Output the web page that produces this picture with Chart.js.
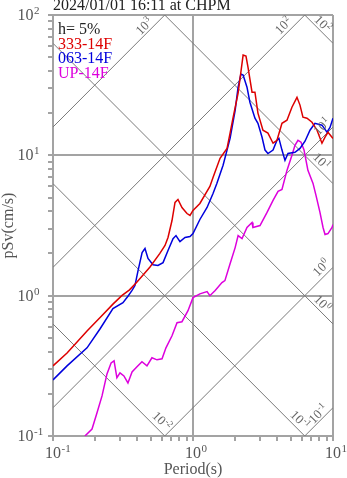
<!DOCTYPE html>
<html><head><meta charset="utf-8">
<script src="https://cdn.jsdelivr.net/npm/chart.js@4.4.0/dist/chart.umd.min.js"></script>
<style>html,body{margin:0;padding:0;background:#fff;}#wrap{width:347px;height:478px;position:relative;}</style>
</head><body><div id="wrap"><canvas id="c"></canvas></div>
<script>
// ---- text ----
const titleText = '2024/01/01 16:11 at CHPM';
const dampingText = 'h= 5%';
const seriesNames = ['333-14F', '063-14F', 'UP-14F'];
const seriesColors = ['#dd0000', '#0000dd', '#dd00dd'];
const xAxisTitle = 'Period(s)';
const yAxisTitle = 'pSv(cm/s)';
// tick labels (powers of ten)
const xTickExponents = [-1, 0, 1];
const yTickExponents = [-1, 0, 1, 2];
const minorSteps = [2, 3, 4, 5, 6, 7, 8, 9];

// ---- series: period (s) and pSv (cm/s) ----
const redT = [0.1,0.126,0.148,0.175,0.217,0.268,0.31,0.352,0.398,0.493,0.58,0.631,0.663,0.708,0.744,0.781,0.834,0.906,0.952,1.0,1.12,1.32,1.39,1.56,1.75,1.84,1.93,2.1,2.28,2.39,2.47,2.64,2.77,2.91,3.16,3.43,3.73,3.98,4.32,4.69,5.09,5.53,5.81,6.1,6.52,7.08,7.69,8.34,8.77,9.21,10];
const redSv = [0.316,0.39,0.465,0.56,0.70,0.87,1.0,1.1,1.25,1.6,2.0,2.28,2.6,3.43,4.62,4.85,4.25,3.85,3.73,4.05,4.54,6.0,6.96,9.52,11.2,14.4,18.4,27.7,51.8,50.9,42.5,28.2,28.2,20,15.1,14.4,12.2,12.8,16.9,17.8,22,25.9,22.8,18.7,18.4,17.2,15.1,12.2,13.5,14.6,13.2];

const blueT = [0.1,0.126,0.175,0.217,0.268,0.316,0.343,0.367,0.385,0.405,0.433,0.454,0.477,0.518,0.562,0.611,0.663,0.72,0.756,0.807,0.877,0.952,1.0,1.12,1.26,1.39,1.48,1.64,1.84,2.0,2.1,2.2,2.28,2.43,2.55,2.77,2.91,3.11,3.27,3.43,3.73,3.98,4.11,4.32,4.54,4.77,5.35,5.81,6.31,6.85,7.43,8.34,9.06,9.52,10];
const blueSv = [0.251,0.316,0.425,0.581,0.81,0.891,0.99,1.09,1.18,1.51,2.03,2.17,1.84,1.66,1.64,1.72,2.1,2.55,2.68,2.43,2.6,2.64,2.77,3.49,4.25,5.35,6.31,8.49,13.2,20.9,30.6,37.9,37.3,30.6,23.9,18.4,16.9,13.5,10.9,10.3,10.9,12.8,13.2,10.9,9.21,10.3,10.5,11.2,12.6,15.1,16.9,16.4,14.6,15.8,18.4];

const magT = [0.169,0.19,0.206,0.224,0.243,0.26,0.273,0.286,0.301,0.321,0.343,0.367,0.398,0.432,0.469,0.509,0.553,0.601,0.641,0.708,0.769,0.834,0.921,1.0,1.12,1.26,1.32,1.44,1.61,1.69,1.84,2.0,2.1,2.24,2.43,2.64,2.68,3.01,3.38,3.73,4.05,4.32,4.69,5.09,5.35,5.62,5.91,6.21,6.62,7.2,7.56,8.07,8.49,8.77,9.21,9.84,10];
const magSv = [0.1,0.112,0.146,0.193,0.277,0.332,0.343,0.26,0.282,0.268,0.239,0.286,0.311,0.338,0.316,0.361,0.349,0.355,0.425,0.518,0.641,0.652,0.781,0.968,1.03,1.07,1.0,1.09,1.24,1.28,1.69,2.2,2.68,2.55,3.06,3.32,3.06,3.16,3.92,4.77,5.53,5.71,7.81,10,11.8,12.8,12.4,10.9,7.81,6.31,5.18,3.92,3.06,2.73,2.77,3.06,3.21];

// ---- tripartite reference lines ----
const sdLines = [0.01, 0.1, 1, 10, 100];      // displacement, cm
const saLines = [0.1, 1, 10, 100, 1000];      // acceleration, cm/s^2
// label placement along / off each line (px): [back from exit, offset to side]
const sdLabelPlace = [[12.7, 8.5], [14.8, 7.8], [22, 7], [24, 7.5], [21, 6.5]];
const saLabelPlace = [[14.8, 6], [8.5, 8], [7.5, 8], [22.6, 7.5], [22.6, 6.5]];

const X_MIN = 0.1, X_MAX = 10, Y_MIN = 0.1, Y_MAX = 100;
const TWO_PI = 2 * Math.PI;
const gridColor = '#a3a3a3';
const diagColor = '#7a7a7a';
const SERIF = '"Liberation Serif", "DejaVu Serif", serif';

function pts(T, S) { return T.map((t, i) => ({ x: t, y: S[i] })); }
function isDecade(v) { const l = Math.log10(v); return Math.abs(l - Math.round(l)) < 1e-6; }
function buildTicks(min, max) {
  const out = [];
  for (let e = Math.round(Math.log10(min)); e <= Math.round(Math.log10(max)); e++) {
    const base = Math.pow(10, e);
    out.push(parseFloat(base.toPrecision(6)));
    if (base >= max) break;
    minorSteps.forEach(m => { const v = parseFloat((m * base).toPrecision(6)); if (v < max) out.push(v); });
  }
  return out;
}

const curveSets = [[redT, redSv], [blueT, blueSv], [magT, magSv]].map((d, i) => ({
  label: seriesNames[i], data: pts(d[0], d[1]), borderColor: seriesColors[i],
  borderWidth: 1.5, pointRadius: 0, fill: false, tension: 0
}));
const sdSets = sdLines.map(sd => ({
  label: 'Sd ' + sd, data: [{ x: X_MIN, y: TWO_PI * sd / X_MIN }, { x: X_MAX, y: TWO_PI * sd / X_MAX }],
  borderColor: diagColor, borderWidth: 1, pointRadius: 0, fill: false
}));
const saSets = saLines.map(sa => ({
  label: 'Sa ' + sa, data: [{ x: X_MIN, y: sa * X_MIN / TWO_PI }, { x: X_MAX, y: sa * X_MAX / TWO_PI }],
  borderColor: diagColor, borderWidth: 1, pointRadius: 0, fill: false
}));

function drawPow(ctx, exp, x, y, baseSize, expSize, align, expRise) {
  ctx.font = baseSize + 'px ' + SERIF;
  const wb = ctx.measureText('10').width;
  ctx.font = expSize + 'px ' + SERIF;
  const es = String(exp);
  const we = ctx.measureText(es).width;
  let x0;
  if (align === 'left') x0 = x;
  else if (align === 'center10') x0 = x - wb / 2;
  else x0 = x - (wb + we + 0.5) / 2;
  ctx.textAlign = 'left';
  ctx.font = baseSize + 'px ' + SERIF;
  ctx.fillText('10', x0, y);
  ctx.font = expSize + 'px ' + SERIF;
  ctx.fillText(es, x0 + wb + 0.5, y - expRise);
}

const overlay = {
  id: 'overlay',
  afterDraw(chart) {
    const { ctx, chartArea: a, scales: { x, y } } = chart;
    ctx.save();
    ctx.textBaseline = 'alphabetic';
    // title
    ctx.fillStyle = '#222';
    ctx.font = '16px ' + SERIF;
    ctx.textAlign = 'left';
    ctx.fillText(titleText, a.left, 10);
    // legend block
    const lx = a.left + 5;
    const lys = [34, 48.5, 63, 77.5];
    ctx.fillStyle = '#222';
    ctx.fillText(dampingText, lx, lys[0]);
    seriesNames.forEach((n, i) => { ctx.fillStyle = seriesColors[i]; ctx.fillText(n, lx, lys[i + 1]); });
    // tick labels
    ctx.fillStyle = '#555';
    xTickExponents.forEach(e => {
      const px = x.getPixelForValue(Math.pow(10, e));
      drawPow(ctx, e, px, a.bottom + 22, 16, 11, 'center10', 6);
    });
    yTickExponents.forEach(e => {
      const py = y.getPixelForValue(Math.pow(10, e));
      drawPow(ctx, e, 17.5, py + 5, 16, 11, 'left', 6);
    });
    // axis titles
    ctx.font = '16px ' + SERIF;
    ctx.textAlign = 'center';
    ctx.fillText(xAxisTitle, (a.left + a.right) / 2, 474);
    ctx.save();
    ctx.translate(9, (a.top + a.bottom) / 2);
    ctx.rotate(-Math.PI / 2);
    ctx.textBaseline = 'middle';
    ctx.fillText(yAxisTitle, 0, 0);
    ctx.restore();
    // diagonal line labels
    ctx.fillStyle = '#666';
    const placeLabel = (T0, S0, T1, S1, exitT, exitS, exp, place) => {
      const p0x = x.getPixelForValue(T0), p0y = y.getPixelForValue(S0);
      const p1x = x.getPixelForValue(T1), p1y = y.getPixelForValue(S1);
      const ang = Math.atan2(p1y - p0y, p1x - p0x);
      const ux = Math.cos(ang), uy = Math.sin(ang);
      const nx = Math.sin(ang), ny = -Math.cos(ang);
      const ex = x.getPixelForValue(exitT), ey = y.getPixelForValue(exitS);
      const cx = ex - place[0] * ux + place[1] * nx;
      const cy = ey - place[0] * uy + place[1] * ny;
      ctx.save();
      ctx.translate(cx, cy);
      ctx.rotate(ang);
      drawPow(ctx, exp, 0, 4, 13, 9, 'center', 5);
      ctx.restore();
    };
    sdLines.forEach((sd, i) => {
      let eT = X_MAX, eS = TWO_PI * sd / X_MAX;
      if (eS < Y_MIN) { eS = Y_MIN; eT = TWO_PI * sd / Y_MIN; }
      placeLabel(1, TWO_PI * sd, 2, TWO_PI * sd / 2, eT, eS, Math.round(Math.log10(sd)), sdLabelPlace[i]);
    });
    saLines.forEach((sa, i) => {
      let eT = X_MAX, eS = sa * X_MAX / TWO_PI;
      if (eS > Y_MAX) { eS = Y_MAX; eT = Y_MAX * TWO_PI / sa; }
      placeLabel(1, sa / TWO_PI, 2, sa * 2 / TWO_PI, eT, eS, Math.round(Math.log10(sa)), saLabelPlace[i]);
    });
    ctx.restore();
  }
};

const gridOpts = {
  color: c => (c.tick && isDecade(c.tick.value)) ? gridColor : 'rgba(0,0,0,0)',
  tickColor: gridColor, lineWidth: 2, tickLength: 5, drawTicks: true, drawOnChartArea: true
};

new Chart(document.getElementById('c'), {
  type: 'line',
  data: { datasets: [...curveSets, ...sdSets, ...saSets] },
  options: {
    responsive: true, maintainAspectRatio: false, devicePixelRatio: 1,
    animation: false, events: [],
    layout: { padding: { left: 0, top: 15, right: 14, bottom: 0 } },
    plugins: { legend: { display: false }, tooltip: { enabled: false }, title: { display: false } },
    scales: {
      x: {
        type: 'logarithmic', min: X_MIN, max: X_MAX, position: 'bottom',
        afterBuildTicks: s => { s.ticks = buildTicks(X_MIN, X_MAX).map(v => ({ value: v })); },
        afterFit: s => { s.height = 42; },
        ticks: { display: false },
        grid: gridOpts,
        border: { color: gridColor, width: 2 }
      },
      y: {
        type: 'logarithmic', min: Y_MIN, max: Y_MAX, position: 'left',
        afterBuildTicks: s => { s.ticks = buildTicks(Y_MIN, Y_MAX).map(v => ({ value: v })); },
        afterFit: s => { s.width = 53; },
        ticks: { display: false },
        grid: gridOpts,
        border: { color: gridColor, width: 2 }
      }
    }
  },
  plugins: [overlay]
});
</script></body></html>
